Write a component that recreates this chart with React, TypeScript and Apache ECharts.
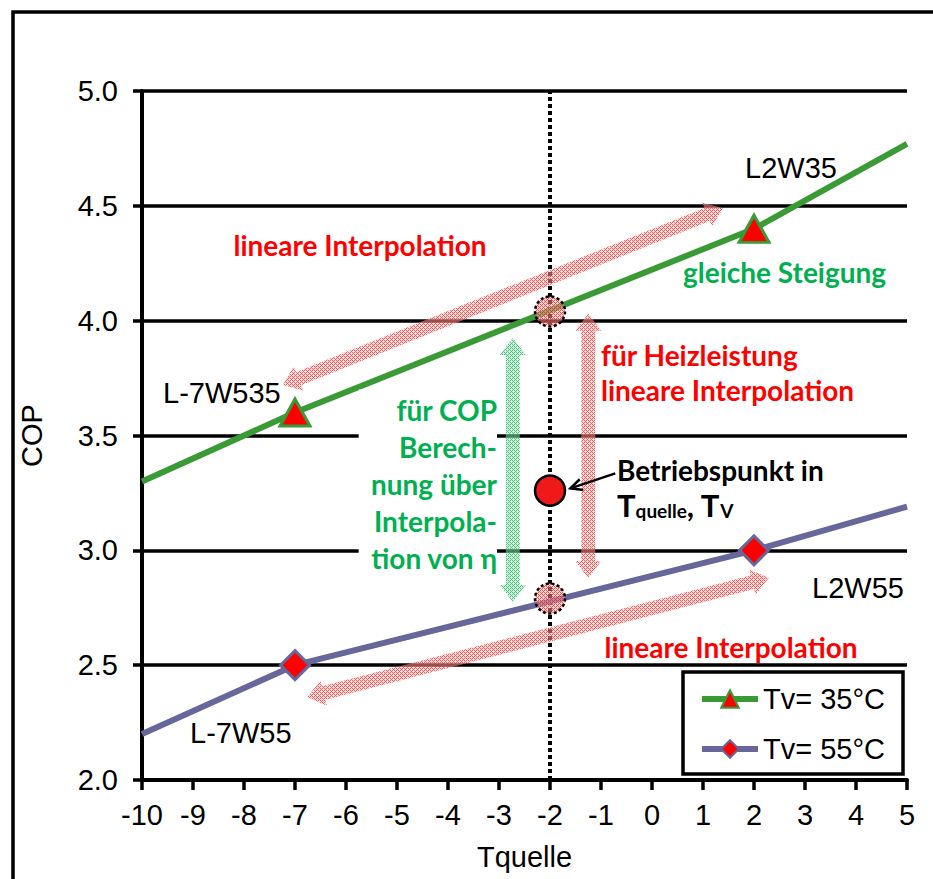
import React, { useEffect, useRef } from 'react';
import * as echarts from 'echarts';

// ---------- data ----------
const tquelle = [-10, -7, 2, 5];
const copTv35 = [3.3, 3.6, 4.4, 4.77];
const copTv55 = [2.2, 2.5, 3.0, 3.19];
const isMeasured = [false, true, true, false];

const xMin = -10;
const xMax = 5;
const xStep = 1;
const yMin = 2;
const yMax = 5;
const yStep = 0.5;

const seriesNames = ['Tv= 35°C', 'Tv= 55°C'];

// operating point and the two interpolated points at Tquelle = -2
const operatingPoints = [[-2, 3.26]];
const interpolatedPoints = [[-2, 4.04], [-2, 2.79]];
const operatingX = -2;

// hatched double arrows: [x1, y1, x2, y2, colourIndex]
const interpolationArrows = [
  [-7.24, 3.72, 1.39, 4.49, 0],
  [-6.76, 2.36, 2.29, 2.88, 0],
  [-1.25, 2.88, -1.25, 4.03, 0],
  [-2.73, 2.775, -2.73, 3.925, 1],
];
// pointer from the text to the operating point: [x1, y1, x2, y2]
const pointerArrow = [[-0.72, 3.335, -1.6, 3.27]];

const GREEN = '#3a9a35';
const PURPLE = '#67679b';
const TXT_RED = '#ff0000';
const TXT_GREEN = '#00b050';
const ARIAL = '"Liberation Sans", Arial, sans-serif';
const CALIBRI = 'Lato, "Open Sans", sans-serif';

function makePattern(base: string, dot: string) {
  const c = document.createElement('canvas');
  c.width = 4;
  c.height = 4;
  const ctx = c.getContext('2d')!;
  ctx.clearRect(0, 0, 4, 4);
  ctx.fillStyle = base;
  ctx.fillRect(0, 0, 4, 4);
  ctx.fillStyle = dot;
  ctx.fillRect(0, 0, 1, 1);
  ctx.fillRect(2, 0, 1, 1);
  ctx.fillRect(1, 1, 1, 1);
  ctx.fillRect(0, 2, 1, 1);
  ctx.fillRect(2, 2, 1, 1);
  ctx.fillRect(3, 3, 1, 1);
  return { image: c, repeat: 'repeat', imageWidth: 4, imageHeight: 4 } as any;
}

function doubleArrow(p1: number[], p2: number[], sh: number, hh: number, hl: number) {
  const dx = p2[0] - p1[0];
  const dy = p2[1] - p1[1];
  const len = Math.hypot(dx, dy);
  const ux = dx / len;
  const uy = dy / len;
  const nx = -uy;
  const ny = ux;
  const pt = (b: number[], a: number, s: number) => [b[0] + ux * a + nx * s, b[1] + uy * a + ny * s];
  return [
    p1,
    pt(p1, hl, hh),
    pt(p1, hl, sh),
    pt(p2, -hl, sh),
    pt(p2, -hl, hh),
    p2,
    pt(p2, -hl, -hh),
    pt(p2, -hl, -sh),
    pt(p1, hl, -sh),
    pt(p1, hl, -hh),
  ];
}

function txt(text: string, x: number, y: number, color: string, family: string, size: number, bold: boolean, align = 'left', extra: any = {}) {
  return {
    type: 'text',
    x,
    y,
    z: 100,
    style: {
      text,
      fill: color,
      fontFamily: family,
      fontSize: size,
      fontWeight: bold ? 'bold' : 'normal',
      textAlign: align,
      align,
      textVerticalAlign: 'middle',
      verticalAlign: 'middle',
      ...extra,
    },
  };
}

export default function App() {
  const ref = useRef<HTMLDivElement>(null);

  useEffect(() => {
    const chart = echarts.init(ref.current!, null, { renderer: 'svg' });
    const redHatch = makePattern('rgba(255,185,185,0.5)', 'rgba(235,40,40,0.7)');
    const greenHatch = makePattern('rgba(160,228,185,0.5)', 'rgba(30,175,90,0.7)');
    const circleHatch = makePattern('rgba(255,170,170,0.5)', 'rgba(225,30,30,0.7)');

    const option: any = {
      animation: false,
      backgroundColor: '#ffffff',
      grid: { left: 142, right: 26, top: 91, bottom: 99, containLabel: false },
      xAxis: {
        type: 'value',
        min: xMin,
        max: xMax,
        interval: xStep,
        name: 'Tquelle',
        nameLocation: 'middle',
        nameGap: 62,
        nameTextStyle: { fontFamily: ARIAL, fontSize: 29, color: '#000' },
        axisLine: { show: true, onZero: false, lineStyle: { color: '#000', width: 4 } },
        axisTick: { show: true, length: 10, lineStyle: { color: '#000', width: 3.5 } },
        axisLabel: { fontFamily: ARIAL, fontSize: 29, color: '#000', margin: 20, showMinLabel: true, showMaxLabel: true },
        splitLine: { show: false },
      },
      yAxis: {
        type: 'value',
        min: yMin,
        max: yMax,
        interval: yStep,
        name: 'COP',
        nameLocation: 'middle',
        nameGap: 96,
        nameTextStyle: { fontFamily: ARIAL, fontSize: 29, color: '#000' },
        axisLine: { show: true, onZero: false, lineStyle: { color: '#000', width: 4 } },
        axisTick: { show: true, length: 9, lineStyle: { color: '#000', width: 3.5 } },
        axisLabel: {
          fontFamily: ARIAL,
          fontSize: 29,
          color: '#000',
          margin: 24,
          formatter: (v: number) => v.toFixed(1),
        },
        splitLine: { show: true, lineStyle: { color: '#000', width: 3.5 } },
      },
      legend: {
        data: seriesNames,
        orient: 'vertical',
        left: 683,
        top: 672,
        itemWidth: 56,
        itemHeight: 22,
        itemGap: 20,
        padding: [12, 18, 10, 16],
        backgroundColor: '#fff',
        borderColor: '#000',
        borderWidth: 3.5,
        borderRadius: 0,
        lineStyle: { width: 6 },
        textStyle: { fontFamily: ARIAL, fontSize: 29, color: '#000', lineHeight: 30 },
        z: 50,
      },
      series: [
        {
          name: seriesNames[0],
          type: 'line',
          data: tquelle.map((x, i) => ({ value: [x, copTv35[i]], symbol: isMeasured[i] ? 'triangle' : 'none' })),
          symbol: 'triangle',
          symbolSize: [30, 27],
          showAllSymbol: true,
          lineStyle: { color: GREEN, width: 6 },
          itemStyle: { color: '#ff0000', borderColor: GREEN, borderWidth: 3 },
          z: 4,
          markLine: {
            silent: true,
            symbol: ['none', 'none'],
            label: { show: false },
            lineStyle: { color: '#000', width: 4, type: [4, 3] },
            data: [{ xAxis: operatingX }],
            z: 3,
          },
        },
        {
          name: seriesNames[1],
          type: 'line',
          data: tquelle.map((x, i) => ({ value: [x, copTv55[i]], symbol: isMeasured[i] ? 'diamond' : 'none' })),
          symbol: 'diamond',
          symbolSize: [29, 29],
          showAllSymbol: true,
          lineStyle: { color: PURPLE, width: 6 },
          itemStyle: { color: '#ff0000', borderColor: PURPLE, borderWidth: 3 },
          z: 4,
        },
        {
          name: 'arrows',
          type: 'custom',
          clip: false,
          z: 5,
          silent: true,
          data: interpolationArrows,
          renderItem: (params: any, api: any) => {
            const p1 = api.coord([api.value(0), api.value(1)]);
            const p2 = api.coord([api.value(2), api.value(3)]);
            const green = api.value(4) === 1;
            return {
              type: 'polygon',
              shape: { points: doubleArrow(p1, p2, 7, 13, 17) },
              style: { fill: green ? greenHatch : redHatch, stroke: 'none' },
            };
          },
        },
        {
          name: 'interpolated',
          type: 'custom',
          clip: false,
          z: 6,
          silent: true,
          data: interpolatedPoints,
          renderItem: (params: any, api: any) => {
            const p = api.coord([api.value(0), api.value(1)]);
            return {
              type: 'circle',
              shape: { cx: p[0], cy: p[1], r: 15 },
              style: { fill: circleHatch, stroke: '#000', lineWidth: 2.5, lineDash: [3, 2.5] },
            };
          },
        },
        {
          name: 'operating point',
          type: 'custom',
          clip: false,
          z: 6,
          silent: true,
          data: operatingPoints,
          renderItem: (params: any, api: any) => {
            const p = api.coord([api.value(0), api.value(1)]);
            return {
              type: 'circle',
              shape: { cx: p[0], cy: p[1], r: 15 },
              style: { fill: '#f01818', stroke: '#000', lineWidth: 2.5 },
            };
          },
        },
        {
          name: 'pointer',
          type: 'custom',
          clip: false,
          z: 6,
          silent: true,
          data: pointerArrow,
          renderItem: (params: any, api: any) => {
            const p1 = api.coord([api.value(0), api.value(1)]);
            const p2 = api.coord([api.value(2), api.value(3)]);
            const ang = Math.atan2(p1[1] - p2[1], p1[0] - p2[0]);
            const hl = 13;
            const a1 = ang + 0.45;
            const a2 = ang - 0.45;
            return {
              type: 'group',
              children: [
                {
                  type: 'line',
                  shape: { x1: p1[0], y1: p1[1], x2: p2[0], y2: p2[1] },
                  style: { stroke: '#000', lineWidth: 2.5 },
                },
                {
                  type: 'polyline',
                  shape: {
                    points: [
                      [p2[0] + hl * Math.cos(a1), p2[1] + hl * Math.sin(a1)],
                      p2,
                      [p2[0] + hl * Math.cos(a2), p2[1] + hl * Math.sin(a2)],
                    ],
                  },
                  style: { stroke: '#000', lineWidth: 2.5, fill: 'none' },
                },
              ],
            };
          },
        },
      ],
      graphic: [
        {
          type: 'rect',
          z: 100,
          shape: { x: 13, y: 12, width: 960, height: 920 },
          style: { fill: 'none', stroke: '#000', lineWidth: 3.5 },
        },
        txt('lineare Interpolation', 360, 245, TXT_RED, CALIBRI, 28, true, 'center'),
        txt('gleiche Steigung', 683, 272, TXT_GREEN, CALIBRI, 28, true, 'left'),
        txt('für COP\nBerech-\nnung über\nInterpola-\ntion von η', 497, 484, TXT_GREEN, CALIBRI, 28, true, 'right', {
          lineHeight: 37,
          backgroundColor: '#fff',
          padding: [2, 0, 2, 12],
        }),
        txt('für Heizleistung\nlineare Interpolation', 601, 372, TXT_RED, CALIBRI, 28, true, 'left', { lineHeight: 35 }),
        txt('Betriebspunkt in', 617, 470, '#000', CALIBRI, 28, true, 'left'),
        txt('{b|T}{s|quelle}{b|, T}{s|V}', 617, 505, '#000', CALIBRI, 28, true, 'left', {
          rich: {
            b: { fontFamily: CALIBRI, fontSize: 31, fontWeight: 'bold', fill: '#000', verticalAlign: 'bottom', lineHeight: 30 },
            s: { fontFamily: CALIBRI, fontSize: 19, fontWeight: 'bold', fill: '#000', verticalAlign: 'bottom', lineHeight: 20 },
          },
        }),
        txt('lineare Interpolation', 731, 647, TXT_RED, CALIBRI, 28, true, 'center'),
        txt('L2W35', 745, 168, '#000', ARIAL, 29, false, 'left'),
        txt('L-7W535', 163, 393, '#000', ARIAL, 29, false, 'left'),
        txt('L2W55', 812, 588, '#000', ARIAL, 29, false, 'left'),
        txt('L-7W55', 190, 733, '#000', ARIAL, 29, false, 'left'),
      ],
    };

    chart.setOption(option);
    return () => chart.dispose();
  }, []);

  return <div ref={ref} style={{ position: 'fixed', left: 0, top: 0, width: 933, height: 879, background: '#fff' }} />;
}
